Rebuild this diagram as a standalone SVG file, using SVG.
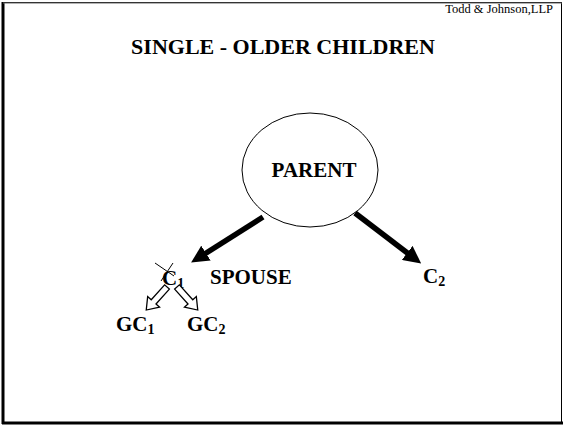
<svg xmlns="http://www.w3.org/2000/svg" width="564" height="427" viewBox="0 0 564 427">
  <style>
    .t { font-family: "Liberation Serif", "Times New Roman", serif; font-weight: bold; fill: #000; }
    .lbl { font-size: 21px; }
    .sub { font-size: 14px; }
    .hollow { fill: #fff; stroke: #000; stroke-width: 1.3; stroke-linejoin: miter; }
    .thick { stroke: #000; stroke-width: 5.5; fill: none; }
  </style>
  <defs>
    <marker id="solidHead" viewBox="0 0 10 10" refX="2" refY="5" markerWidth="3.2" markerHeight="3.2" orient="auto" markerUnits="strokeWidth">
      <path d="M0,0 L10,5 L0,10 Z" fill="#000"/>
    </marker>
    <path id="blockArrow" d="M0,-3.2 L20,-3.2 L20,-8 L31,0 L20,8 L20,3.2 L0,3.2 Z"/>
  </defs>

  <rect width="564" height="427" fill="#fff"/>

  <!-- page frame with a drop-shadow edge -->
  <g id="frame">
    <rect x="3.5" y="2.5" width="558" height="420" fill="none" stroke="#000" stroke-width="1"/>
    <line x1="3" y1="2" x2="3" y2="424" stroke="#000" stroke-width="3"/>
    <line x1="2" y1="423" x2="563" y2="423" stroke="#000" stroke-width="3"/>
    <line x1="3" y1="3" x2="562" y2="3" stroke="#666" stroke-width="1"/>
  </g>

  <text class="t" x="553" y="13" text-anchor="end" style="font-weight:normal;font-size:12.5px">Todd &amp; Johnson,LLP</text>
  <text class="t" x="283" y="54" text-anchor="middle" font-size="22">SINGLE - OLDER CHILDREN</text>

  <g id="parent">
    <ellipse cx="310" cy="170" rx="68" ry="57" fill="#fff" stroke="#000" stroke-width="1"/>
    <text class="t lbl" x="314" y="177" text-anchor="middle">PARENT</text>
  </g>

  <g id="c1">
    <text class="t lbl" x="162" y="285">C<tspan class="sub" dy="3">1</tspan></text>
    <line x1="155" y1="263" x2="174" y2="276" stroke="#000" stroke-width="1"/>
    <line x1="173" y1="263" x2="161" y2="281" stroke="#000" stroke-width="1"/>
  </g>

  <g id="spouse">
    <text class="t lbl" x="210" y="284">SPOUSE</text>
  </g>

  <g id="c2">
    <text class="t lbl" x="423" y="283">C<tspan class="sub" dy="3">2</tspan></text>
  </g>

  <g id="gc1">
    <text class="t lbl" x="116" y="331">GC<tspan class="sub" dy="3">1</tspan></text>
  </g>

  <g id="gc2">
    <text class="t lbl" x="187" y="331">GC<tspan class="sub" dy="3">2</tspan></text>
  </g>

  <g id="connectors">
    <line class="thick" x1="263" y1="217" x2="203" y2="255" marker-end="url(#solidHead)"/>
    <line class="thick" x1="355" y1="213" x2="410" y2="255" marker-end="url(#solidHead)"/>
    <use href="#blockArrow" class="hollow" transform="translate(167,287) rotate(132)"/>
    <use href="#blockArrow" class="hollow" transform="translate(177,287) rotate(48)"/>
  </g>
</svg>
